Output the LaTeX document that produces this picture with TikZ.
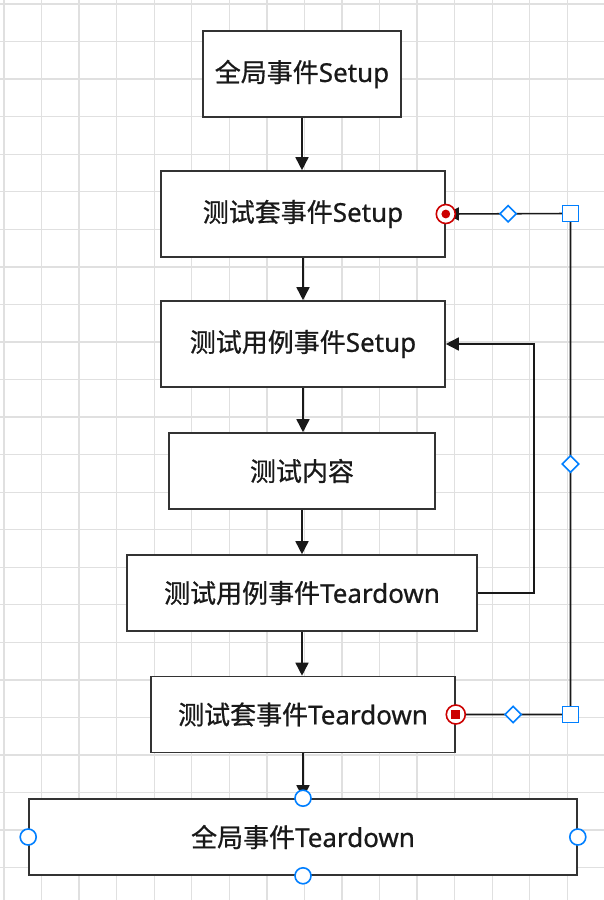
\documentclass[tikz,border=0pt]{standalone}
\usepackage{fontspec}
\setmainfont{Noto Sans}[FakeBold=0.7]
\newfontfamily\cjk{Noto Sans CJK SC}[FakeBold=0.7]
\usetikzlibrary{arrows.meta,shapes.geometric,calc}
\definecolor{gridgray}{RGB}{224,224,224}
\definecolor{boxline}{RGB}{51,51,51}
\definecolor{handleblue}{RGB}{0,127,255}
\definecolor{termred}{RGB}{204,0,0}

\begin{document}
\begin{tikzpicture}[x=1pt, y=-1pt,
  box/.style={draw=boxline, line width=1.6pt, fill=white, inner sep=0pt, text=black!90, font=\fontsize{26}{30}\selectfont},
  flow/.style={draw=black!90, line width=1.6pt, -{Triangle[length=13pt,width=13pt]}},
  gridline/.style={draw=gridgray, line width=1.3pt},
  hsquare/.style={draw=handleblue, fill=white, line width=1.6pt, rectangle, minimum size=16pt, inner sep=0pt},
  hdiamond/.style={draw=handleblue, fill=white, line width=1.6pt, diamond, minimum size=17pt, inner sep=0pt},
  hcircle/.style={draw=handleblue, fill=white, line width=1.6pt, circle, minimum size=16pt, inner sep=0pt},
  hterm/.style={draw=termred, fill=white, line width=1.6pt, circle, minimum size=19pt, inner sep=0pt}]
\useasboundingbox (0,0) rectangle (604,900);
\fill[white] (0,0) rectangle (604,900);

% Grid
\foreach \i in {0,...,16}
  \draw[gridline] ({4+37.55*\i},0) -- ({4+37.55*\i},900);
\foreach \j in {0,...,23}
  \draw[gridline] (0,{4+37.55*\j}) -- (604,{4+37.55*\j});

% Setup events
\node[box, minimum width=198pt, minimum height=86pt] (globalsetup) at (302,74) {{\cjk 全局事件}Setup};
\node[box, minimum width=284pt, minimum height=86pt] (suitesetup) at (303,214) {{\cjk 测试套事件}Setup};
\node[box, minimum width=284pt, minimum height=86pt] (casesetup) at (303,344) {{\cjk 测试用例事件}Setup};

% Test body
\node[box, minimum width=266pt, minimum height=76pt] (content) at (302,471) {\cjk 测试内容};

% Teardown events
\node[box, minimum width=350pt, minimum height=76pt] (caseteardown) at (302,593) {{\cjk 测试用例事件}Teardown};
\node[box, minimum width=304pt, minimum height=76pt] (suiteteardown) at (303,714.5) {{\cjk 测试套事件}Teardown};
\node[box, minimum width=548pt, minimum height=76pt] (globalteardown) at (303,837) {{\cjk 全局事件}Teardown};

% Main flow
\draw[flow] (globalsetup.south) -- (globalsetup.south |- suitesetup.north);
\draw[flow] (suitesetup.south) -- (suitesetup.south |- casesetup.north);
\draw[flow] (casesetup.south) -- (casesetup.south |- content.north);
\draw[flow] (content.south) -- (content.south |- caseteardown.north);
\draw[flow] (caseteardown.south) -- (caseteardown.south |- suiteteardown.north);
\draw[flow] (suiteteardown.south) -- (suiteteardown.south |- globalteardown.north);

% Loop over test cases
\draw[flow] (caseteardown.east) -- ++(56,0) |- (casesetup.east);

% Loop over test suites (selected edge)
\coordinate (bendlow) at (570.5,714.5);
\coordinate (bendhigh) at (570.5,213.5);
\draw[flow] (suiteteardown.east) -- (bendlow) -- (bendhigh) -- (suitesetup.east);

% Edge handles
\node[hdiamond] (midlow) at ($(suiteteardown.east)!0.5!(bendlow)$) {};
\node[hdiamond] (midright) at ($(bendlow)!0.5!(bendhigh)$) {};
\node[hdiamond] (midhigh) at ($(bendhigh)!0.5!(suitesetup.east)$) {};
\node[hsquare] (sqlow) at (bendlow) {};
\node[hsquare] (sqhigh) at (bendhigh) {};
\node[hterm] (termsrc) at (suiteteardown.east) {};
\fill[termred] ($(termsrc)+(-4.6,-4.6)$) rectangle ($(termsrc)+(4.6,4.6)$);
\node[hterm] (termdst) at (suitesetup.east) {};
\fill[termred] (termdst) circle (4.4);

% Shape handles
\node[hcircle] (hn) at (globalteardown.north) {};
\node[hcircle] (hs) at (globalteardown.south) {};
\node[hcircle] (hw) at (globalteardown.west) {};
\node[hcircle] (he) at (globalteardown.east) {};
\end{tikzpicture}
\end{document}
